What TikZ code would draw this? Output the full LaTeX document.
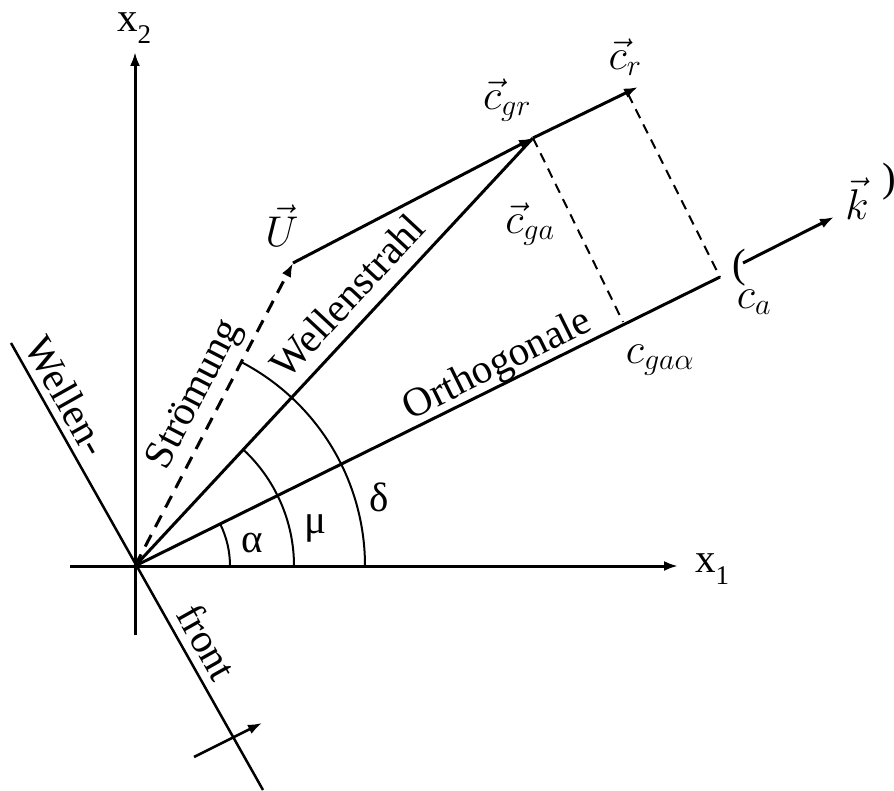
\RequirePackage{fix-cm}
\documentclass[tikz,border=0pt]{standalone}
\usepackage{fontspec}
\setmainfont{Liberation Serif}
\newfontfamily\lserif{Liberation Serif}
\usetikzlibrary{arrows.meta,calc}
\begin{document}
\begin{tikzpicture}[x=1pt,y=-1pt,
  mainline/.style={line width=3pt},
  thinline/.style={line width=2pt},
  arr/.style={-{Latex[length=14pt,width=10pt]}},
  dashthick/.style={line width=3pt,dash pattern=on 13pt off 9pt},
  dashthin/.style={line width=2pt,dash pattern=on 10pt off 7pt},
  lbl/.style={font=\lserif\fontsize{41}{48}\selectfont,inner sep=0pt},
  mlbl/.style={font=\fontsize{43}{50}\selectfont,inner sep=0pt}]
\useasboundingbox (0,0) rectangle (894,791);
% coordinates
\coordinate (O) at (135,566);
\coordinate (X1s) at (70,566);
\coordinate (X1e) at (678,566);
\coordinate (X2s) at (135,635);
\coordinate (X2e) at (135,52);
\coordinate (F1) at (11,343);
\coordinate (F2) at (263,790);
\coordinate (Fa) at (194,757);
\coordinate (Fb) at (262,723);
\coordinate (A) at (720,277);
\coordinate (G) at (533,138);
\coordinate (R) at (638,87);
\coordinate (U) at (293,263);
\coordinate (Gf) at (623,322);
\coordinate (Rd) at (628,94);
\coordinate (Ks) at (743,263);
\coordinate (Ke) at (834,217);
% axes
\draw[mainline,arr] (X1s) -- (X1e);
\draw[mainline,arr] (X2s) -- (X2e);
% wave front
\draw[line width=2.5pt] (F1) -- (F2);
\draw[line width=2.5pt,arr] (Fa) -- (Fb);
% orthogonale, wellenstrahl
\draw[mainline] (O) -- (A);
\draw[mainline] (O) -- (G);
\draw[dashthick,arr] (O) -- (U);
\draw[mainline,arr] (U) -- (G);
\draw[mainline,arr] (G) -- (R);
\draw[dashthin] (G) -- (Gf);
\draw[dashthin] (Rd) -- (A);
\draw[mainline,arr] (Ks) -- (Ke);
% arcs
\draw[thinline] ($(O)+(95,0)$) arc[start angle=0,end angle=-26.3,radius=95];
\draw[thinline] ($(O)+(159,0)$) arc[start angle=0,end angle=-47.1,radius=159];
\draw[thinline] ($(O)+(230,0)$) arc[start angle=0,end angle=-62.6,radius=230];
% labels
\node[lbl] (lx2) at (134,28) {x\raisebox{-0.3em}{\fontsize{27}{27}\selectfont 2}};
\node[lbl] (lx1) at (712,569) {x\raisebox{-0.3em}{\fontsize{27}{27}\selectfont 1}};
\node[lbl] (lal) at (252,543) {α};
\node[lbl] (lmu) at (315,528) {μ};
\node[lbl] (lde) at (379,497) {δ};
\node[lbl,rotate=-60.6] (lwe) at (67,396) {Wellen-};
\node[lbl,rotate=-60.6] (lfr) at (207,642) {front};
\node[lbl,rotate=62.6] (lst) at (196,395) {Strömung};
\node[lbl,rotate=47.1] (lws) at (347,296) {Wellenstrahl};
\node[lbl,rotate=26.3] (lor) at (498,366) {Orthogonale};
\node[mlbl] (lcr) at (625,57) {$\vec{c}_r$};
\node[mlbl] (lcgr) at (507,100) {$\vec{c}_{gr}$};
\node[mlbl] (lU) at (282,226) {$\vec{U}$};
\node[mlbl] (lcga) at (530,224) {$\vec{c}_{ga}$};
\node[mlbl] (lk) at (857,199) {$\vec{k}$};
\node[mlbl] (lca) at (754,302) {$c_a$};
\node[mlbl] (lcgaa) at (660,360) {$c_{ga\alpha}$};
\node[lbl] (lp1) at (739,268) {(};
\node[lbl] (lp2) at (889,182) {)};
\end{tikzpicture}
\end{document}
